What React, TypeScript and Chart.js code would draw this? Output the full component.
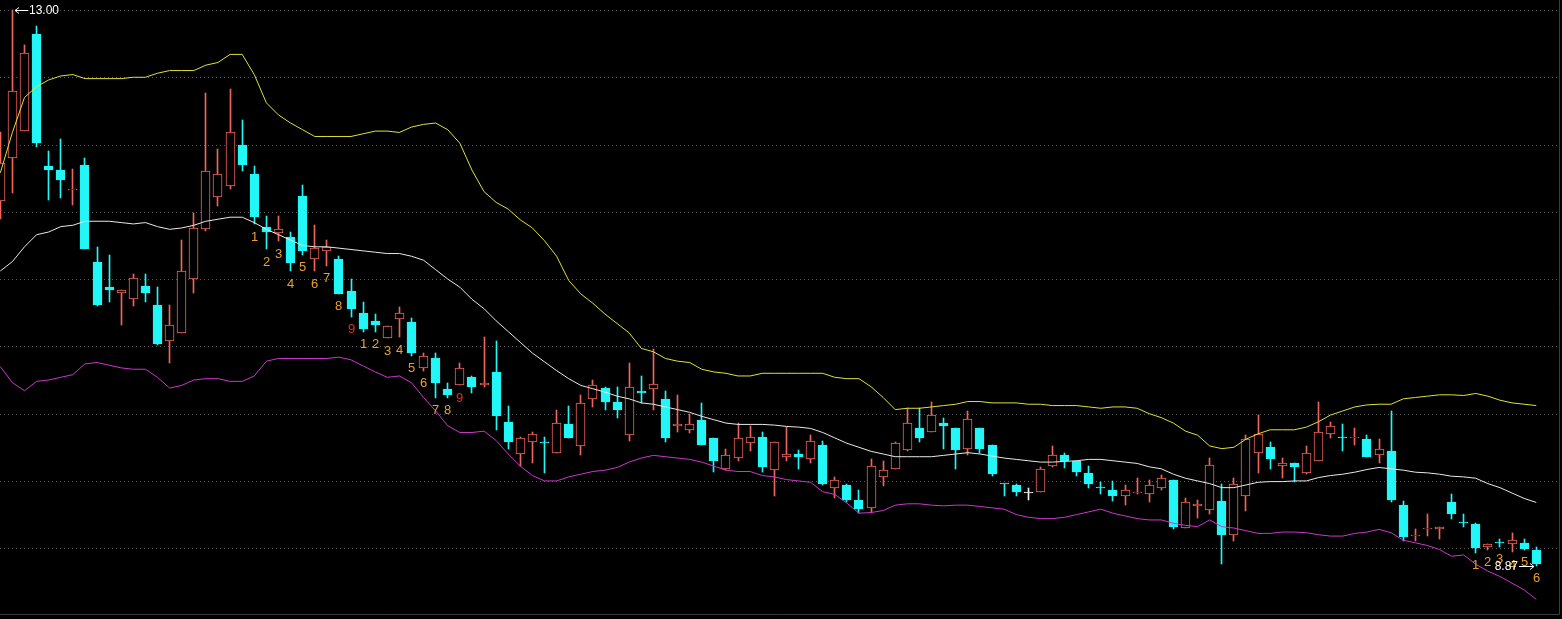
import React, { useEffect, useRef } from "react";
import { Chart, registerables } from "chart.js";

Chart.register(...registerables);

// ---- data ----
const openP = [
  11.58, 11.90, 12.10, 12.82, 11.84, 11.81, 11.66, 11.85, 11.13, 10.94,
  10.90, 10.85, 10.95, 10.81, 10.54, 10.60, 11.00, 11.37, 11.61, 11.69,
  12.00, 11.78, 11.39, 11.34, 11.31, 11.62, 11.15, 11.21, 11.15, 10.91,
  10.75, 10.69, 10.56, 10.70, 10.68, 10.34, 10.41, 10.18, 10.21, 10.27,
  10.21, 10.31, 9.94, 9.70, 9.79, 9.79, 9.71, 9.92, 9.76, 10.11,
  10.19, 10.09, 9.84, 10.17, 10.18, 10.11, 9.91, 9.88, 9.95, 9.82,
  9.59, 9.67, 9.78, 9.83, 9.58, 9.68, 9.70, 9.66, 9.77, 9.45,
  9.47, 9.36, 9.30, 9.53, 9.59, 9.73, 9.89, 9.86, 9.93, 9.89,
  9.74, 9.89, 9.77, 9.48, 9.47, 9.41, 9.42, 9.61, 9.69, 9.65,
  9.56, 9.45, 9.43, 9.39, 9.41, 9.40, 9.45, 9.505, 9.15, 9.31,
  9.285, 9.35, 9.10, 9.39, 9.71, 9.75, 9.61, 9.63, 9.56, 9.65,
  9.85, 9.825, 9.82, 9.81, 9.69, 9.72, 9.32, 9.09, 9.14, 9.14,
  9.34, 9.19, 9.18, 9.01, 9.045, 9.03, 9.04, 8.99,
];
const highP = [
  12.09, 13.00, 12.74, 12.88, 11.95, 12.04, 11.82, 11.90, 11.24, 11.18,
  10.92, 11.04, 11.04, 10.94, 10.81, 11.29, 11.49, 12.38, 11.97, 12.41,
  12.18, 11.84, 11.47, 11.47, 11.35, 11.70, 11.40, 11.29, 11.17, 11.00,
  10.83, 10.74, 10.65, 10.79, 10.71, 10.45, 10.45, 10.23, 10.38, 10.28,
  10.57, 10.54, 10.06, 9.83, 9.86, 9.83, 10.03, 10.06, 10.14, 10.25,
  10.20, 10.20, 10.38, 10.28, 10.48, 10.17, 10.14, 10.00, 10.08, 9.82,
  9.74, 9.93, 9.91, 9.86, 9.79, 9.90, 9.73, 9.84, 9.80, 9.53,
  9.48, 9.43, 9.66, 9.65, 9.79, 10.04, 10.04, 10.09, 9.97, 9.89,
  10.02, 9.89, 9.77, 9.48, 9.48, 9.45, 9.60, 9.76, 9.71, 9.65,
  9.61, 9.49, 9.50, 9.47, 9.52, 9.51, 9.545, 9.51, 9.37, 9.36,
  9.67, 9.48, 9.52, 9.84, 9.99, 9.79, 9.67, 9.63, 9.76, 10.09,
  9.94, 9.92, 9.89, 9.84, 9.81, 10.02, 9.35, 9.14, 9.255, 9.155,
  9.40, 9.255, 9.19, 9.03, 9.07, 9.11, 9.07, 9.01,
];
const lowP = [
  11.45, 11.64, 12.10, 11.98, 11.59, 11.60, 11.55, 11.22, 10.80, 10.83,
  10.66, 10.80, 10.83, 10.51, 10.38, 10.60, 10.90, 11.36, 11.54, 11.67,
  11.80, 11.41, 11.22, 11.28, 11.06, 11.18, 11.06, 11.10, 10.89, 10.72,
  10.61, 10.61, 10.56, 10.57, 10.43, 10.32, 10.12, 10.12, 10.21, 10.15,
  10.20, 9.88, 9.74, 9.61, 9.63, 9.56, 9.71, 9.82, 9.69, 10.05,
  10.03, 9.97, 9.80, 10.08, 10.03, 9.79, 9.86, 9.855, 9.77, 9.57,
  9.58, 9.65, 9.72, 9.57, 9.39, 9.65, 9.59, 9.63, 9.47, 9.37,
  9.34, 9.26, 9.26, 9.46, 9.59, 9.72, 9.79, 9.86, 9.74, 9.59,
  9.69, 9.71, 9.535, 9.39, 9.39, 9.36, 9.42, 9.60, 9.595, 9.535,
  9.45, 9.40, 9.35, 9.32, 9.40, 9.34, 9.43, 9.14, 9.15, 9.225,
  9.255, 8.88, 9.05, 9.28, 9.56, 9.59, 9.52, 9.49, 9.55, 9.65,
  9.82, 9.72, 9.77, 9.68, 9.63, 9.34, 9.05, 9.05, 9.09, 9.07,
  9.22, 9.16, 8.965, 8.99, 9.01, 8.97, 8.99, 8.87,
];
const closeP = [
  11.86, 12.40, 12.68, 12.01, 11.81, 11.74, 11.67, 11.22, 10.81, 10.92,
  10.92, 11.01, 10.90, 10.52, 10.66, 11.06, 11.38, 11.80, 11.78, 12.09,
  11.85, 11.46, 11.35, 11.37, 11.12, 11.21, 11.23, 11.24, 10.89, 10.78,
  10.63, 10.66, 10.65, 10.75, 10.45, 10.43, 10.23, 10.14, 10.34, 10.20,
  10.23, 9.98, 9.79, 9.82, 9.85, 9.78, 9.93, 9.82, 10.08, 10.21,
  10.09, 10.03, 10.20, 10.15, 10.22, 9.82, 9.92, 9.92, 9.77, 9.65,
  9.69, 9.82, 9.83, 9.60, 9.79, 9.70, 9.68, 9.80, 9.48, 9.51,
  9.36, 9.29, 9.61, 9.58, 9.78, 9.93, 9.82, 9.99, 9.91, 9.73,
  9.96, 9.74, 9.55, 9.475, 9.42, 9.41, 9.59, 9.69, 9.65, 9.57,
  9.48, 9.445, 9.39, 9.43, 9.42, 9.47, 9.52, 9.16, 9.34, 9.33,
  9.62, 9.10, 9.48, 9.81, 9.85, 9.66, 9.63, 9.60, 9.71, 9.86,
  9.91, 9.82, 9.825, 9.68, 9.74, 9.36, 9.08, 9.095, 9.145, 9.155,
  9.255, 9.185, 9.00, 9.03, 9.04, 9.06, 8.995, 8.88,
];
const upperBand = [
  11.79, 12.09, 12.35, 12.43, 12.48, 12.51, 12.52, 12.49, 12.49, 12.49,
  12.49, 12.50, 12.50, 12.53, 12.55, 12.55, 12.55, 12.59, 12.61, 12.67,
  12.67, 12.52, 12.31, 12.22, 12.16, 12.11, 12.06, 12.06, 12.06, 12.06,
  12.08, 12.10, 12.10, 12.09, 12.13, 12.15, 12.16, 12.11, 12.01, 11.81,
  11.65, 11.57, 11.52, 11.44, 11.38, 11.285, 11.17, 10.99, 10.89, 10.82,
  10.74, 10.67, 10.60, 10.485, 10.46, 10.41, 10.39, 10.38, 10.33, 10.31,
  10.30, 10.28, 10.28, 10.30, 10.30, 10.30, 10.30, 10.30, 10.30, 10.27,
  10.26, 10.26, 10.20, 10.12, 10.03, 10.04, 10.04, 10.05, 10.06, 10.07,
  10.09, 10.09, 10.08, 10.08, 10.08, 10.07, 10.07, 10.06, 10.06, 10.06,
  10.05, 10.04, 10.05, 10.05, 10.04, 10.00, 9.97, 9.93, 9.87, 9.84,
  9.76, 9.74, 9.75, 9.81, 9.85, 9.88, 9.88, 9.88, 9.90, 9.94,
  9.99, 10.02, 10.05, 10.065, 10.07, 10.07, 10.11, 10.12, 10.13, 10.14,
  10.14, 10.135, 10.15, 10.13, 10.10, 10.08, 10.07, 10.06,
];
const middleBand = [
  11.06, 11.13, 11.24, 11.33, 11.35, 11.39, 11.40, 11.43, 11.43, 11.43,
  11.42, 11.41, 11.42, 11.39, 11.37, 11.38, 11.40, 11.43, 11.445, 11.46,
  11.46, 11.42, 11.37, 11.33, 11.29, 11.25, 11.24, 11.24, 11.23, 11.22,
  11.21, 11.20, 11.19, 11.19, 11.17, 11.14, 11.07, 11.00, 10.94, 10.85,
  10.78, 10.69, 10.61, 10.53, 10.45, 10.385, 10.32, 10.26, 10.21, 10.185,
  10.16, 10.13, 10.11, 10.08, 10.07, 10.05, 10.03, 10.01, 9.98, 9.955,
  9.93, 9.92, 9.92, 9.92, 9.915, 9.905, 9.90, 9.89, 9.86, 9.82,
  9.78, 9.75, 9.72, 9.70, 9.68, 9.68, 9.68, 9.68, 9.69, 9.70,
  9.71, 9.70, 9.685, 9.67, 9.66, 9.65, 9.64, 9.64, 9.645, 9.65,
  9.66, 9.66, 9.65, 9.64, 9.63, 9.605, 9.59, 9.55, 9.52, 9.50,
  9.48, 9.45, 9.45, 9.47, 9.49, 9.495, 9.495, 9.50, 9.50, 9.525,
  9.54, 9.55, 9.565, 9.585, 9.60, 9.59, 9.58, 9.565, 9.56, 9.55,
  9.535, 9.53, 9.52, 9.48, 9.45, 9.41, 9.37, 9.34,
];
const lowerBand = [
  10.35, 10.23, 10.17, 10.24, 10.25, 10.27, 10.29, 10.37, 10.38, 10.36,
  10.34, 10.33, 10.33, 10.27, 10.19, 10.21, 10.25, 10.26, 10.26, 10.24,
  10.24, 10.28, 10.39, 10.41, 10.41, 10.41, 10.41, 10.41, 10.42, 10.40,
  10.355, 10.31, 10.27, 10.28, 10.23, 10.12, 10.02, 9.91, 9.86, 9.86,
  9.87, 9.80, 9.70, 9.61, 9.54, 9.50, 9.50, 9.53, 9.55, 9.57,
  9.58, 9.60, 9.64, 9.67, 9.69, 9.68, 9.67, 9.66, 9.64, 9.61,
  9.58, 9.57, 9.57, 9.54, 9.53, 9.51, 9.50, 9.49, 9.42, 9.40,
  9.335, 9.26, 9.265, 9.28, 9.32, 9.33, 9.33, 9.32, 9.315, 9.32,
  9.32, 9.31, 9.30, 9.29, 9.25, 9.23, 9.22, 9.22, 9.23, 9.25,
  9.27, 9.29, 9.26, 9.24, 9.22, 9.21, 9.21, 9.185, 9.17, 9.16,
  9.21, 9.16, 9.15, 9.13, 9.11, 9.11, 9.12, 9.12, 9.115, 9.10,
  9.09, 9.09, 9.11, 9.12, 9.14, 9.115, 9.06, 9.04, 9.02, 8.99,
  8.94, 8.95, 8.88, 8.83, 8.79, 8.74, 8.69, 8.62,
];
// TD-style count labels: candle index and number
const tdIndex = [
  21, 22, 23, 24, 25, 26, 27, 28, 29,
  30, 31, 32, 33, 34, 35, 36, 37, 38,
  122, 123, 124, 125, 126, 127,
];
const tdNumber = [
  1, 2, 3, 4, 5, 6, 7, 8, 9,
  1, 2, 3, 4, 5, 6, 7, 8, 9,
  1, 2, 3, 4, 5, 6,
];
const gridLevels = [13.0, 12.5, 12.0, 11.5, 11.0, 10.5, 10.0, 9.5, 9.0];

// ---- styles ----
const BG = "#000000";
const RED = "#f0645a";
const CYAN = "#22f6f6";
const DOJI = "#f0f0f0";
const YELLOW = "#e0e03a";
const WHITE_LINE = "#e8e8e8";
const MAGENTA = "#cc36cc";
const GRID = "#5a5a5a";
const FRAME = "#3c3c3c";
const ORANGE = "#e8a030";
const TD_RED = "#e2301e";
const W = 1562;
const H = 619;
const PX_PER_UNIT = 134.55;
const Y_MAX = 13 + 10 / PX_PER_UNIT;
const Y_MIN = Y_MAX - H / PX_PER_UNIT;
const STEP = 12.094;
const X_MIN = -0.3 / STEP;
const X_MAX = X_MIN + W / STEP;

const colorOf = (i: number) =>
  closeP[i] > openP[i] ? RED : closeP[i] < openP[i] ? CYAN : DOJI;

// snap bar elements to whole pixels so candles render crisp
const snapPlugin = {
  id: "snapBars",
  beforeDatasetsDraw(chart: any) {
    chart.data.datasets.forEach((_: any, di: number) => {
      const meta = chart.getDatasetMeta(di);
      if (meta.type !== "bar") return;
      meta.data.forEach((el: any) => {
        el.x = Math.floor(el.x) + 0.5;
        let top = Math.round(Math.min(el.y, el.base));
        let bot = Math.round(Math.max(el.y, el.base));
        if (bot - top < 1) bot = top + 1;
        el.y = top;
        el.base = bot;
      });
    });
  },
};

const backgroundPlugin = {
  id: "bgGrid",
  beforeDraw(chart: any) {
    const { ctx, chartArea, scales } = chart;
    const y = scales.y;
    ctx.save();
    ctx.fillStyle = BG;
    ctx.fillRect(0, 0, chart.width, chart.height);
    ctx.strokeStyle = GRID;
    ctx.lineWidth = 1;
    ctx.setLineDash([1, 3]);
    const right = chartArea.right - 3;
    gridLevels.forEach((v) => {
      const py = Math.round(y.getPixelForValue(v)) + 0.5;
      ctx.beginPath();
      ctx.moveTo(chartArea.left, py);
      ctx.lineTo(right, py);
      ctx.stroke();
    });
    ctx.setLineDash([]);
    ctx.strokeStyle = FRAME;
    const bottom = Math.floor(chartArea.bottom) - 4.5;
    ctx.beginPath();
    ctx.moveTo(chartArea.left, bottom);
    ctx.lineTo(right + 0.5, bottom);
    ctx.moveTo(right + 0.5, chartArea.top);
    ctx.lineTo(right + 0.5, bottom);
    ctx.stroke();
    ctx.restore();
  },
};

const overlayPlugin = {
  id: "overlay",
  afterDatasetsDraw(chart: any) {
    const { ctx, scales } = chart;
    const xs = scales.x;
    const ys = scales.y;
    ctx.save();
    ctx.font = "13px 'Liberation Sans', Arial, sans-serif";
    ctx.textAlign = "center";
    ctx.textBaseline = "middle";
    tdIndex.forEach((idx, k) => {
      const n = tdNumber[k];
      ctx.fillStyle = n === 9 ? TD_RED : ORANGE;
      const px = Math.floor(xs.getPixelForValue(idx)) + 0.5;
      const py = ys.getPixelForValue(lowP[idx]) + 13;
      ctx.fillText(String(n), px, py);
    });
    let hi = 0;
    let lo = 0;
    highP.forEach((v, i) => {
      if (v > highP[hi]) hi = i;
    });
    lowP.forEach((v, i) => {
      if (v < lowP[lo]) lo = i;
    });
    ctx.font = "12px 'Liberation Sans', Arial, sans-serif";
    ctx.fillStyle = "#ffffff";
    ctx.strokeStyle = "#ffffff";
    ctx.lineWidth = 1;
    {
      const px = Math.floor(xs.getPixelForValue(hi));
      const py = Math.round(ys.getPixelForValue(highP[hi])) + 0.5;
      const a0 = px + 3;
      const a1 = a0 + 13;
      ctx.beginPath();
      ctx.moveTo(a0, py);
      ctx.lineTo(a1, py);
      ctx.moveTo(a0, py);
      ctx.lineTo(a0 + 4, py - 3);
      ctx.moveTo(a0, py);
      ctx.lineTo(a0 + 4, py + 3);
      ctx.stroke();
      ctx.textAlign = "left";
      ctx.textBaseline = "middle";
      ctx.fillText(highP[hi].toFixed(2), a1 + 1, py);
    }
    {
      const px = Math.floor(xs.getPixelForValue(lo));
      const py = Math.round(ys.getPixelForValue(lowP[lo])) + 0.5;
      const a1 = px - 2;
      const a0 = a1 - 15;
      ctx.beginPath();
      ctx.moveTo(a0, py);
      ctx.lineTo(a1, py);
      ctx.moveTo(a1, py);
      ctx.lineTo(a1 - 4, py - 3);
      ctx.moveTo(a1, py);
      ctx.lineTo(a1 - 4, py + 3);
      ctx.stroke();
      ctx.textAlign = "right";
      ctx.textBaseline = "middle";
      ctx.fillText(lowP[lo].toFixed(2), a0 - 1, py);
    }
    ctx.restore();
  },
};

export default function App() {
  const ref = useRef<HTMLCanvasElement | null>(null);

  useEffect(() => {
    document.body.style.margin = "0";
    document.body.style.background = BG;
    const canvas = ref.current;
    if (!canvas) return;
    const idx = openP.map((_, i) => i);
    const line = (label: string, values: number[], color: string) => ({
      type: "line" as const,
      label,
      data: idx.map((i) => ({ x: i, y: values[i] })),
      borderColor: color,
      borderWidth: 1,
      pointRadius: 0,
      tension: 0,
      fill: false,
      order: -1,
    });
    const chart = new Chart(canvas, {
      type: "bar",
      data: {
        datasets: [
          line("UPPER", upperBand, YELLOW),
          line("MID", middleBand, WHITE_LINE),
          line("LOWER", lowerBand, MAGENTA),
          {
            type: "bar",
            label: "body",
            data: idx.map((i) => ({ x: i, y: [openP[i], closeP[i]] })) as any,
            backgroundColor: (c: any) =>
              closeP[c.dataIndex] > openP[c.dataIndex] ? BG : colorOf(c.dataIndex),
            borderColor: (c: any) => colorOf(c.dataIndex),
            borderWidth: 1,
            borderSkipped: false,
            barThickness: 9,
            minBarLength: 1,
            grouped: false,
            order: 0,
          } as any,
          {
            type: "bar",
            label: "wick",
            data: idx.map((i) => ({ x: i, y: [lowP[i], highP[i]] })) as any,
            backgroundColor: (c: any) => colorOf(c.dataIndex),
            borderWidth: 0,
            barThickness: 1,
            minBarLength: 1,
            grouped: false,
            order: 1,
          } as any,
        ],
      },
      options: {
        animation: false,
        responsive: false,
        maintainAspectRatio: false,
        events: [],
        layout: { padding: 0 },
        plugins: {
          legend: { display: false },
          tooltip: { enabled: false },
        },
        scales: {
          x: { type: "linear", min: X_MIN, max: X_MAX, offset: false, display: false },
          y: { type: "linear", min: Y_MIN, max: Y_MAX, offset: false, display: false },
        },
      },
      plugins: [backgroundPlugin, snapPlugin, overlayPlugin],
    });
    return () => chart.destroy();
  }, []);

  return (
    <div style={{ width: W, height: H, background: BG }}>
      <canvas ref={ref} width={W} height={H} style={{ display: "block" }} />
    </div>
  );
}
